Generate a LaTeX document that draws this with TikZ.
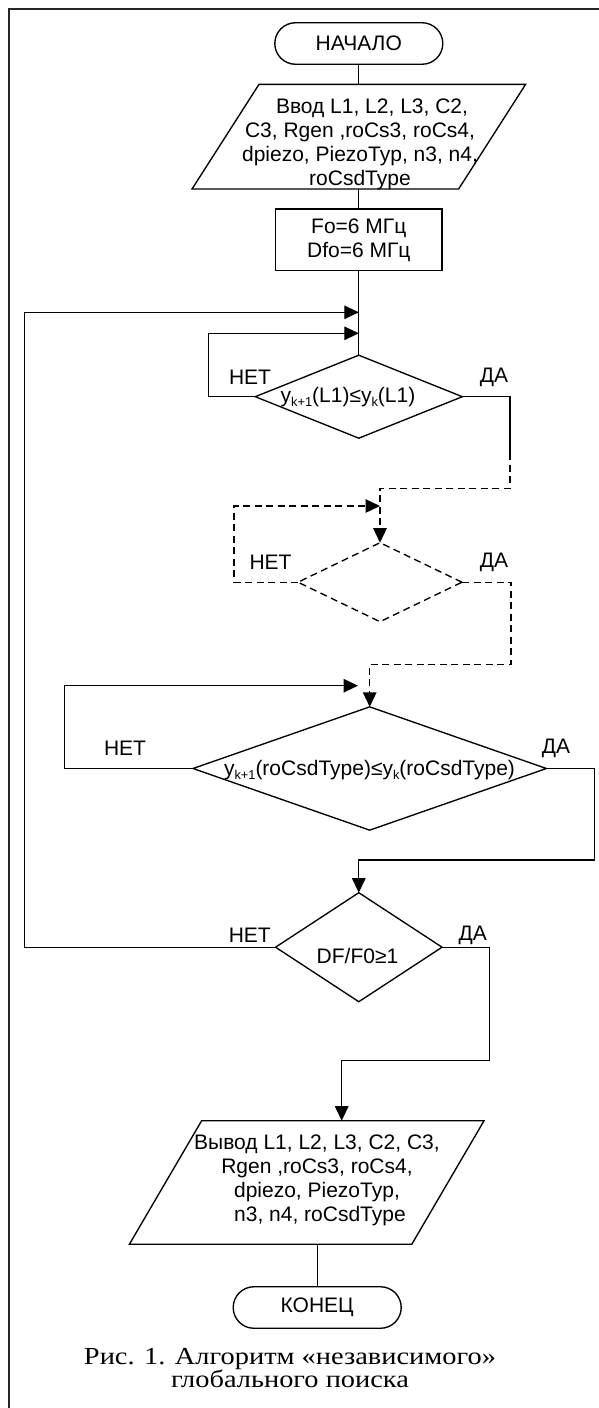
\documentclass[tikz,border=0pt]{standalone}
\usepackage{fontspec}
\setmainfont{Liberation Serif}
\setsansfont{Liberation Sans}
\newfontfamily\captionface{Liberation Serif}[FakeStretch=1.16]
\usetikzlibrary{arrows.meta,shapes.geometric,calc}
% lowered small index, as in y_{k+1}
\newcommand{\lowidx}[1]{\raisebox{-0.2em}{\fontsize{12.8}{12.8}\selectfont #1}}
% parallelogram outline over the box of node #1, each side slanted by #2
\newcommand{\ioframe}[2]{%
  \draw[wire] ([xshift=#2]#1.north west) -- ([xshift=#2]#1.north east)
    -- ([xshift=-#2]#1.south east) -- ([xshift=-#2]#1.south west) -- cycle;}
\begin{document}
\begin{tikzpicture}[x=1pt,y=-1pt,
  every node/.style={font=\sffamily\fontsize{21}{24.2}\selectfont, inner sep=0pt, outer sep=0pt},
  wire/.style={line width=1.35pt},
  flow/.style={wire, -{Triangle[length=14.5pt,width=13.5pt]}},
  dashline/.style={dash pattern=on 7pt off 4.5pt},
  term/.style={draw, wire, rectangle, rounded corners=20.7pt, minimum width=168pt, minimum height=41.5pt},
  proc/.style={draw, wire, rectangle, minimum width=166.7pt, minimum height=61.7pt, align=center},
  iobox/.style 2 args={rectangle, minimum width=#1, minimum height=#2},
  decision/.style 2 args={draw, wire, diamond, minimum width=#1, minimum height=#2},
  txt/.style={align=center}]

\useasboundingbox (0,0) rectangle (599,1408);
% page frame
\draw[line width=2.2pt, black!85] (9.3,1408) -- (9.3,9.3) -- (599,9.3);

% blocks
\node[term] (start) at (358.8,43.5) {НАЧАЛО};
\node[iobox={266.6pt}{104.7pt}] (inp) at (358.8,136.7) {};
\ioframe{inp}{33.5pt}
\node[txt] (inptext) at (360,144.5) {\hspace*{24pt}Ввод L1, L2, L3, C2,\\C3, Rgen ,roCs3, roCs4,\\dpiezo, PiezoTyp, n3, n4,\\roCsdType};
\node[proc] (init) at (358.8,239.9) {Fo=6 МГц\\Dfo=6 МГц};

\node[decision={207pt}{83pt}] (d1) at (358.8,396.7) {};
\node (d1text) at (348,397) {y\lowidx{k+1}(L1)≤y\lowidx{k}(L1)};
\node[decision={164pt}{79pt}, dashline] (d2) at (380,582.2) {};
\node[decision={353.4pt}{123.3pt}] (d3) at (369.7,768.5) {};
\node (d3text) at (369.5,770) {y\lowidx{k+1}(roCsdType)≤y\lowidx{k}(roCsdType)};
\node[decision={166.5pt}{109pt}] (df) at (358.8,947.2) {};
\node (dftext) at (357.5,955.7) {DF/F0≥1};

\node[iobox={282.4pt}{123.6pt}] (outp) at (306.7,1182.5) {};
\ioframe{outp}{36.15pt}
\node[txt] (outptext) at (317,1180.5) {Вывод L1, L2, L3, C2, C3,\\Rgen ,roCs3, roCs4,\\dpiezo, PiezoTyp,\\\hspace*{6pt}n3, n4, roCsdType};
\node[term] (end) at (317.2,1307.5) {КОНЕЦ};

% branch labels
\node (n1) at (250,377) {НЕТ};
\node (y1) at (494,377) {ДА};
\node (n2) at (270.5,562) {НЕТ};
\node (y2) at (494,562) {ДА};
\node (n3) at (125,748) {НЕТ};
\node (y3) at (556,748) {ДА};
\node (n4) at (249.8,935) {НЕТ};
\node (y4) at (472.8,935) {ДА};

% junction points of the loops
\coordinate (j1) at (358.8,312.3);
\coordinate (j2) at (358.8,333.3);
\coordinate (j3) at (358,685.7);
\coordinate (j4) at (380,506);

% connectors
\draw[wire] (start.south) -- (inp.north);
\draw[wire] (inp.south) -- (init.north);
\draw[wire] (init.south) -- (d1.north);
\draw[flow] (d1.west) -- ++(-47,0) |- (j2);
\draw[wire] (d1.east) -- ++(47.8,0) -- ++(0,56.3) coordinate (s1);
\draw[flow, dashline] (s1) -- ++(0,35.3) -| (d2.north);
\draw[flow, dashline] (d2.west) -- ++(-64,0) |- (j4);
\draw[flow, dashline] (d2.east) -- ++(49,0) -- ++(0,82.1) -| (d3.north);
\draw[flow] (d3.west) -- ++(-128.8,0) |- (j3);
\draw[flow] (d3.east) -- ++(48,0) -- ++(0,91.5) -| (df.north);
\draw[flow] (df.west) -- ++(-250.8,0) |- (j1);
\draw[flow] (df.east) -- ++(47.5,0) -- ++(0,113.5) -| ([xshift=35pt]outp.north);
\draw[wire] (end.north |- outp.south) -- (end.north);

% caption
\node[font=\captionface\fontsize{24.5}{23.4}\selectfont, align=center] (caption) at (290,1368) {Рис. 1. Алгоритм «независимого»\\глобального поиска};
\end{tikzpicture}
\end{document}
